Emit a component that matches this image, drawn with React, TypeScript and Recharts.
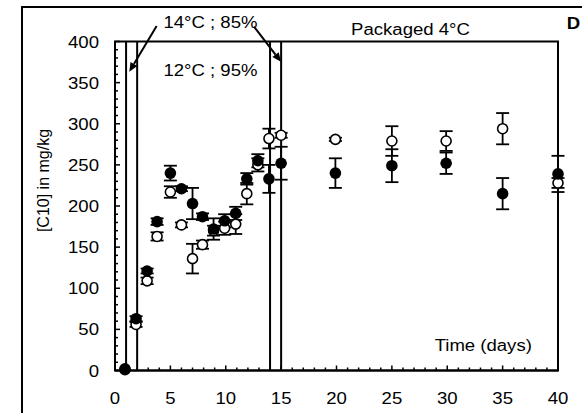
import { ScatterChart, Scatter, XAxis, YAxis, ErrorBar, ReferenceLine, ReferenceArea, ReferenceDot } from "recharts";

// storage time (days) and [C10] (mg/kg)
const days = [0.9, 1.9, 2.9, 3.8, 5, 6, 7, 7.9, 8.9, 9.9, 10.9, 11.9, 12.9, 13.9, 15, 19.9, 25, 29.9, 35, 40];
const filledVals = [2, 63, 121, 181, 240, 221, 203, 187, 172, 182, 191, 233, 255, 233, 252, 240, 249, 252, 215, 239];
const filledErr = [0, 3, 3, 4, 9, 3, 19, 4, 13, 8, 8, 7, 8, 17, 20, 18, 20, 13, 19, 22];
const openVals = [1, 56, 109, 163, 217, 177, 136, 153, 170, 173, 178, 215, 250, 282, 286, 281, 279, 279, 294, 228];
const openErr = [0, 3, 4, 5, 7, 3, 18, 5, 6, 8, 12, 13, 8, 12, 3, 2, 18, 12, 19, 6];

const xTicks = Array.from({ length: 41 }, (_, i) => i);
const yTicks = Array.from({ length: 41 }, (_, i) => i * 10);
const phaseLines = [1, 2, 14, 15];

const filled = days.map((d, i) => ({ day: d, v: filledVals[i], err: filledErr[i] }));
const open = days.map((d, i) => ({ day: d, v: openVals[i], err: openErr[i] }));

const FONT = "'Liberation Sans', Arial, sans-serif";

function SText({ x, y, anchor = "middle", size = 16, bold = false, children }: any) {
  return (
    <text
      transform={`translate(${x} ${y}) scale(1.16 1)`}
      textAnchor={anchor}
      fontSize={size}
      fontFamily={FONT}
      fontWeight={bold ? 700 : 400}
      fill="#000"
    >
      {children}
    </text>
  );
}

const XTick = ({ x, y, payload }: any) => {
  const major = payload.value % 5 === 0;
  return (
    <g>
      <line x1={x} x2={x} y1={y} y2={y - (major ? 5 : 3)} stroke="#000" strokeWidth={1.5} />
      {major && <SText x={x} y={y + 33}>{payload.value}</SText>}
    </g>
  );
};

const YTick = ({ x, y, payload }: any) => {
  const major = payload.value % 50 === 0;
  return (
    <g>
      <line x1={x} x2={x + (major ? 5 : 3)} y1={y} y2={y} stroke="#000" strokeWidth={1.5} />
      {major && <SText x={x - 16} y={y + 6} anchor="end">{payload.value}</SText>}
    </g>
  );
};

const Arrow = (p: any) => {
  const { x1, y1, x2, y2 } = p;
  const a = Math.atan2(y2 - y1, x2 - x1);
  const L = 9, W = 4;
  const bx = x2 - L * Math.cos(a), by = y2 - L * Math.sin(a);
  const pts = `${x2},${y2} ${bx + W * Math.sin(a)},${by - W * Math.cos(a)} ${bx - W * Math.sin(a)},${by + W * Math.cos(a)}`;
  return (
    <g>
      <line x1={x1} y1={y1} x2={bx} y2={by} stroke="#000" strokeWidth={2} />
      <polygon points={pts} fill="#000" />
    </g>
  );
};

const label = (text: string, opts: any = {}) => (p: any) => (
  <SText x={p.cx} y={p.cy} {...opts}>{text}</SText>
);

export default function App() {
  return (
    <div style={styles.page}>
      <div style={styles.frame} />
      <ScatterChart width={582} height={413} margin={{ top: 41.5, right: 24, bottom: 12.5, left: 55 }}>
        <XAxis
          type="number"
          dataKey="day"
          domain={[0, 40]}
          ticks={xTicks}
          interval={0}
          tickSize={0}
          tickMargin={0}
          tickLine={false}
          height={30}
          axisLine={{ stroke: "#000", strokeWidth: 2 }}
          tick={<XTick />}
        />
        <YAxis
          type="number"
          dataKey="v"
          domain={[0, 400]}
          ticks={yTicks}
          interval={0}
          tickSize={0}
          tickMargin={0}
          tickLine={false}
          width={60}
          axisLine={{ stroke: "#000", strokeWidth: 2 }}
          tick={<YTick />}
        />
        <ReferenceArea x1={0} x2={40} y1={0} y2={400} fill="none" stroke="#000" strokeWidth={2} fillOpacity={0} />
        {phaseLines.map((d) => (
          <ReferenceLine key={d} x={d} stroke="#000" strokeWidth={2} />
        ))}
        <ReferenceLine ifOverflow="visible" segment={[{ x: 3.76, y: 418.8 }, { x: 1.29, y: 363.3 }]} shape={Arrow} />
        <ReferenceLine ifOverflow="visible" segment={[{ x: 12.55, y: 418 }, { x: 14.99, y: 375.4 }]} shape={Arrow} />
        <ReferenceDot x={8.62} y={416} ifOverflow="visible" shape={label("14°C ; 85%")} />
        <ReferenceDot x={8.62} y={358} ifOverflow="visible" shape={label("12°C ; 95%")} />
        <ReferenceDot x={26.68} y={407.9} ifOverflow="visible" shape={label("Packaged 4°C")} />
        <ReferenceDot x={33.25} y={24.1} ifOverflow="visible" shape={label("Time (days)")} />
        <ReferenceDot x={40.8} y={414.8} ifOverflow="visible" shape={label("D", { anchor: "start", size: 16, bold: true })} />
        <ReferenceDot
          x={-5.95}
          y={231}
          ifOverflow="visible"
          shape={(p: any) => (
            <text transform={`translate(${p.cx} ${p.cy}) rotate(-90)`} textAnchor="middle" fontSize={16} fontFamily={FONT} fill="#000">
              [C10] in mg/kg
            </text>
          )}
        />
        <Scatter
          data={open}
          isAnimationActive={false}
          shape={(p: any) => <circle cx={p.cx} cy={p.cy} r={5} fill="#fff" stroke="#000" strokeWidth={1.6} />}
        >
          <ErrorBar dataKey="err" direction="y" width={6.5} stroke="#000" strokeWidth={1.8} />
        </Scatter>
        <Scatter
          data={filled}
          isAnimationActive={false}
          shape={(p: any) => <circle cx={p.cx} cy={p.cy} r={5.8} fill="#000" />}
        >
          <ErrorBar dataKey="err" direction="y" width={6.5} stroke="#000" strokeWidth={1.8} />
        </Scatter>
      </ScatterChart>
    </div>
  );
}

const styles: Record<string, React.CSSProperties> = {
  page: { position: "absolute", left: 0, top: 0, width: 582, height: 413, overflow: "hidden", background: "#fff" },
  frame: { position: "absolute", left: 21, top: 6, width: 700, height: 500, border: "2px solid #000" },
};
